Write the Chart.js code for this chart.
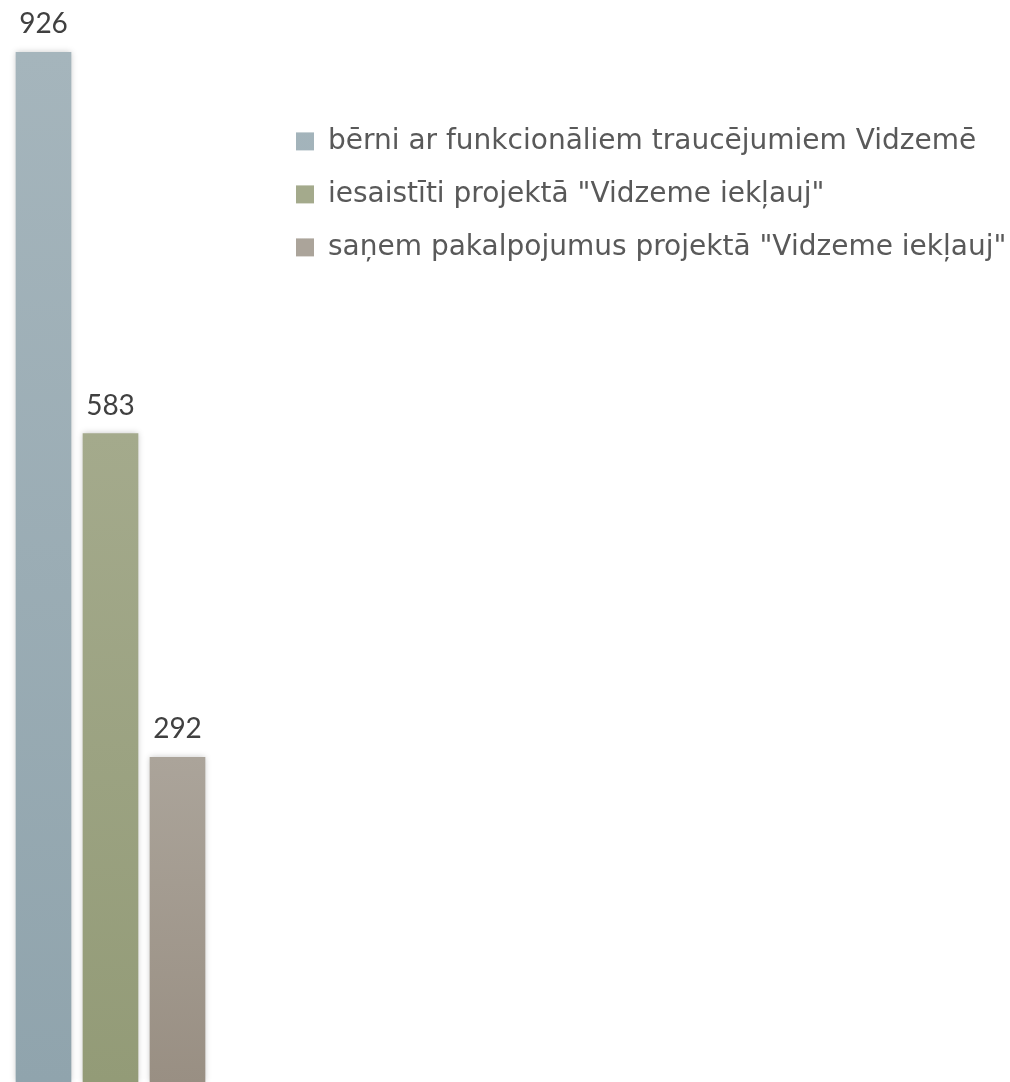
<!DOCTYPE html>
<html>
<head>
<meta charset="utf-8">
<script src="https://cdn.jsdelivr.net/npm/chart.js@4/dist/chart.umd.min.js"></script>
<style>
    html, body { margin: 0; padding: 0; background: #ffffff; }
    #wrap { width: 1010px; height: 1082px; }
</style>
</head>
<body>
<div id="wrap"><canvas id="barChart"></canvas></div>
<script>
// DATA -----------------------------------------------------------------------

const categories = ['']
const seriesNames = [
    'bērni ar funkcionāliem traucējumiem Vidzemē',
    'iesaistīti projektā "Vidzeme iekļauj"',
    'saņem pakalpojumus projektā "Vidzeme iekļauj"'
]
const seriesValues = [926, 583, 292]

// SETTINGS -------------------------------------------------------------------

const topColors = ['#A5B5BC', '#A4AA8C', '#ABA49A']
const bottomColors = ['#90A4AD', '#939B77', '#998F83']
const legendFont = {family: "'DejaVu Sans', sans-serif", size: 28}
const legendPadding = 25
const legendBox = 18
const legendLeft = 271
const plotRight = 221

// HELPER FUNCTIONS ----------------------------------------------------------

function measureLegendWidth() {
    const ctx = document.createElement('canvas').getContext('2d')
    ctx.font = `${legendFont.size}px ${legendFont.family}`
    const maxText = Math.max(...seriesNames.map((t) => ctx.measureText(t).width))
    return legendPadding + legendBox + legendFont.size / 2 + maxText + 10
}

function barGradient(i) {
    return (context) => {
        const chart = context.chart
        const yScale = chart.scales.y
        if (!chart.chartArea || !yScale) return topColors[i]
        const top = yScale.getPixelForValue(seriesValues[i])
        const g = chart.ctx.createLinearGradient(0, top, 0, chart.chartArea.bottom)
        g.addColorStop(0, topColors[i])
        g.addColorStop(1, bottomColors[i])
        return g
    }
}

// soft shadow round each bar
const barShadow = {
    id: 'barShadow',
    beforeDatasetDraw(chart) {
        const ctx = chart.ctx
        ctx.save()
        ctx.shadowColor = 'rgba(0, 0, 0, 0.22)'
        ctx.shadowBlur = 6
        ctx.shadowOffsetX = 0
        ctx.shadowOffsetY = 0
    },
    afterDatasetDraw(chart) {
        chart.ctx.restore()
    }
}

// value labels above bars
const valueLabels = {
    id: 'valueLabels',
    afterDraw(chart) {
        const ctx = chart.ctx
        ctx.save()
        ctx.font = "28px Lato, 'Open Sans', sans-serif"
        ctx.fillStyle = '#404040'
        ctx.textAlign = 'center'
        ctx.textBaseline = 'alphabetic'
        chart.data.datasets.forEach((ds, i) => {
            const bar = chart.getDatasetMeta(i).data[0]
            ctx.fillText(String(ds.data[0]), bar.x, bar.y - 19)
        })
        ctx.restore()
    }
}

// CHART ----------------------------------------------------------------------

const legendWidth = measureLegendWidth()

new Chart(document.getElementById('barChart'), {
    type: 'bar',
    data: {
        labels: categories,
        datasets: seriesNames.map((name, i) => ({
            label: name,
            data: [seriesValues[i]],
            backgroundColor: barGradient(i),
            borderWidth: 0,
            barThickness: 67,
            maxBarThickness: 55
        }))
    },
    options: {
        responsive: true,
        maintainAspectRatio: false,
        animation: false,
        layout: {
            padding: {left: 0, top: 0, bottom: 0, right: 1010 - legendLeft - legendWidth}
        },
        plugins: {
            tooltip: {enabled: false},
            legend: {
                position: 'right',
                align: 'start',
                maxWidth: 1000,
                title: {display: true, text: '', font: {size: 12}, padding: {top: 88, bottom: 0}},
                labels: {
                    color: '#595959',
                    font: legendFont,
                    boxWidth: legendBox,
                    boxHeight: legendBox,
                    padding: legendPadding
                }
            }
        },
        scales: {
            x: {display: false},
            y: {
                position: 'right',
                min: 0,
                max: 973,
                ticks: {display: false},
                grid: {display: false},
                border: {display: false},
                afterFit(scale) { scale.width = legendLeft - plotRight }
            }
        }
    },
    plugins: [barShadow, valueLabels]
});
</script>
</body>
</html>
